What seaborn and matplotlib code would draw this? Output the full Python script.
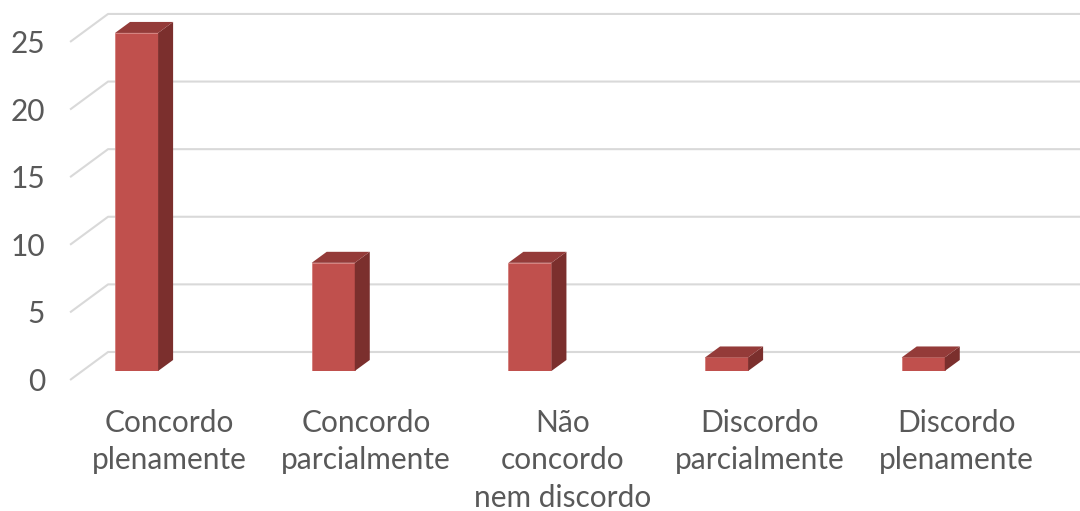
import matplotlib
matplotlib.use("Agg")
import matplotlib.pyplot as plt
from matplotlib.patches import Polygon
from matplotlib.transforms import ScaledTranslation
import seaborn as sns
import pandas as pd

# dados
categorias = ["Concordo\nplenamente", "Concordo\nparcialmente", "Não\nconcordo\nnem discordo",
              "Discordo\nparcialmente", "Discordo\nplenamente"]
valores = [25, 8, 8, 1, 1]
marcas_y = [0, 5, 10, 15, 20, 25]

sns.set_theme(style="white")
plt.rcParams["font.family"] = ["Lato", "DejaVu Sans"]

cor_frente = "#c0504d"
cor_lado = "#7b2f2d"
cor_topo = "#943b39"
cor_texto = "#595959"
cor_grade = "#d9d9d9"

fig = plt.figure(figsize=(10.8, 5.11), dpi=100)
ax = fig.add_axes([0.0354, 0.274, 0.9105, 0.688])
ax.patch.set_alpha(0)

df = pd.DataFrame({"cat": categorias, "val": valores})
sns.barplot(data=df, x="cat", y="val", color=cor_frente, saturation=1, width=0.219,
            edgecolor="#d47c79", linewidth=0.6, ax=ax, zorder=3)
ax.set_xlim(-0.5, 4.5)
ax.set_ylim(0, 26)

# pixels -> unidades de dados
ux = ax.transData.transform((1, 0))[0] - ax.transData.transform((0, 0))[0]
uy = ax.transData.transform((0, 1))[1] - ax.transData.transform((0, 0))[1]
def px(dx, dy):
    return dx / ux, dy / uy

# faces laterais e topo (efeito 3D)
ddx, ddy = px(15, 11)
for p in ax.patches[:len(valores)]:
    x0, w, h = p.get_x(), p.get_width(), p.get_height()
    x1 = x0 + w
    lado = Polygon([(x1, 0), (x1, h), (x1 + ddx, h + ddy), (x1 + ddx, ddy)],
                   closed=True, facecolor=cor_lado, edgecolor="none", zorder=3)
    topo = Polygon([(x0, h), (x1, h), (x1 + ddx, h + ddy), (x0 + ddx, h + ddy)],
                   closed=True, facecolor=cor_topo, edgecolor="none", zorder=3)
    ax.add_patch(lado)
    ax.add_patch(topo)

# grade: parede esquerda em diagonal + linhas no fundo
x_parede = (82 - 136.5) / ux
fx, fy = px(-12, -9)
bx, by = px(26, 19)
for v in marcas_y:
    ax.plot([x_parede + fx, x_parede + bx, 5.2], [v + fy, v + by, v + by],
            color=cor_grade, lw=1.5, clip_on=False, zorder=1, solid_capstyle="butt")
    ax.text(x_parede + fx + px(-25, 0)[0], v + fy + px(0, -2)[1], str(v), ha="right", va="center",
            fontsize=21.5, color=cor_texto)

ax.set_yticks([])
ax.set_xticks(range(len(categorias)))
ax.set_xticklabels(categorias)
ax.tick_params(axis="x", length=0, pad=27.5, labelsize=21.5, labelcolor=cor_texto)
for lbl in ax.get_xticklabels():
    lbl.set_linespacing(1.4)
    lbl.set_transform(lbl.get_transform() + ScaledTranslation(0.33, 0, fig.dpi_scale_trans))
ax.set_xlabel("")
ax.set_ylabel("")
for s in ax.spines.values():
    s.set_visible(False)

fig.savefig("out.png", dpi=100)
